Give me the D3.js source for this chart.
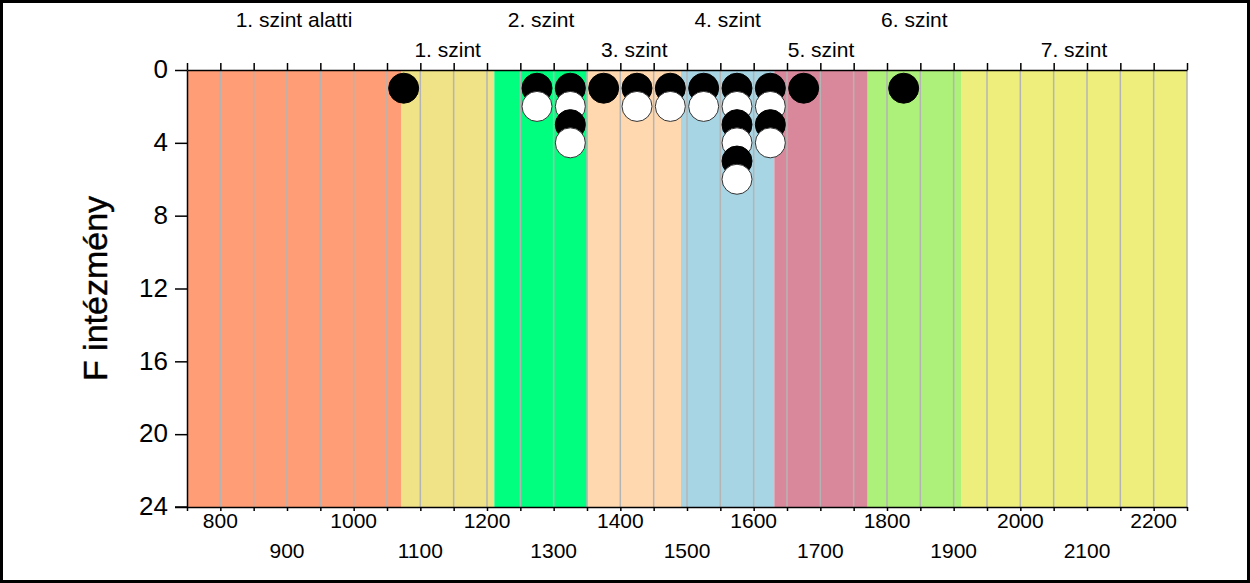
<!DOCTYPE html>
<html>
<head>
<meta charset="utf-8">
<script src="https://cdn.jsdelivr.net/npm/d3@7"></script>
<style>
  html, body { margin: 0; padding: 0; background: #fff; }
  svg { display: block; font-family: "Liberation Sans", Arial, sans-serif; }
</style>
</head>
<body>
<svg id="chart" width="1250" height="583"></svg>
<script>
// ---- data ----
const bandNames = ["1. szint alatti", "1. szint", "2. szint", "3. szint", "4. szint", "5. szint", "6. szint", "7. szint"];
const bandStarts = [750, 1071, 1211, 1351, 1491, 1631, 1771, 1911];
const bandEnds   = [1071, 1211, 1351, 1491, 1631, 1771, 1911, 2250];
const bandColors = ["#FF9E76", "#F0E286", "#00FF7F", "#FFD8B0", "#A8D5E4", "#D9889B", "#ADF07A", "#EEEE7C"];
const columnScores = [1075, 1275, 1325, 1375, 1425, 1475, 1525, 1575, 1625, 1675, 1825];
const columnCounts = [1, 2, 4, 1, 2, 2, 2, 6, 4, 1, 1];
const xTickLabels = [800, 900, 1000, 1100, 1200, 1300, 1400, 1500, 1600, 1700, 1800, 1900, 2000, 2100, 2200];
const yTickLabels = [0, 4, 8, 12, 16, 20, 24];
const yTitle = "F intézmény";

(function () {
  const svg = d3.select("#chart");
  const W = 1250, H = 583;
  const mLeft = 187, mRight = 1187, mTop = 70, mBottom = 507;

  const x = d3.scaleLinear().domain([750, 2250]).range([mLeft, mRight]);
  const y = d3.scaleLinear().domain([0, 24]).range([mTop, mBottom]);

  // outer frame
  svg.append("rect").attr("x", 1.5).attr("y", 1.5).attr("width", W - 3).attr("height", H - 3)
    .attr("fill", "#fff").attr("stroke", "#000").attr("stroke-width", 3);

  // bands
  svg.append("g").selectAll("rect").data(bandNames).join("rect")
    .attr("x", (d, i) => x(bandStarts[i]))
    .attr("width", (d, i) => x(bandEnds[i]) - x(bandStarts[i]))
    .attr("y", y(0)).attr("height", y(24) - y(0))
    .attr("fill", (d, i) => bandColors[i]);

  // vertical grid every 50
  const gridVals = d3.range(800, 2251, 50);
  svg.append("g").selectAll("line").data(gridVals).join("line")
    .attr("x1", d => x(d)).attr("x2", d => x(d))
    .attr("y1", y(0)).attr("y2", y(24))
    .attr("stroke", "#B4B4B4").attr("stroke-width", 1.5);

  // band labels at top
  svg.append("g").selectAll("text").data(bandNames).join("text")
    .attr("x", (d, i) => x((bandStarts[i] + bandEnds[i]) / 2))
    .attr("y", (d, i) => i % 2 === 0 ? 27 : 57)
    .attr("text-anchor", "middle")
    .attr("font-size", 21)
    .attr("fill", "#000")
    .text(d => d);

  // top axis ticks
  const topAxis = d3.axisTop(x).tickValues(d3.range(750, 2251, 50)).tickSize(7).tickSizeOuter(0).tickFormat("");
  svg.append("g").attr("transform", `translate(0,${mTop})`).call(topAxis)
    .call(g => g.select(".domain").attr("stroke", "#000").attr("stroke-width", 1.5))
    .call(g => g.selectAll(".tick line").attr("stroke", "#000").attr("stroke-width", 1.5));

  // bottom axis
  const botAxis = d3.axisBottom(x).tickValues(d3.range(750, 2251, 50)).tickSize(4).tickSizeOuter(0).tickFormat("");
  svg.append("g").attr("transform", `translate(0,${mBottom})`).call(botAxis)
    .call(g => g.select(".domain").attr("stroke", "#000").attr("stroke-width", 1.5))
    .call(g => g.selectAll(".tick line").attr("stroke", "#000").attr("stroke-width", 1.5));
  svg.append("line").attr("x1", mLeft - 12).attr("x2", mLeft).attr("y1", mBottom).attr("y2", mBottom)
    .attr("stroke", "#000").attr("stroke-width", 1.5);

  svg.append("g").selectAll("text").data(xTickLabels).join("text")
    .attr("x", d => x(d))
    .attr("y", (d, i) => i % 2 === 0 ? 528 : 558)
    .attr("text-anchor", "middle")
    .attr("font-size", 21)
    .text(d => d);

  // left axis
  const leftAxis = d3.axisLeft(y).tickValues(yTickLabels).tickSize(12).tickSizeOuter(0).tickPadding(7);
  svg.append("g").attr("transform", `translate(${mLeft},0)`).call(leftAxis)
    .call(g => g.select(".domain").attr("stroke", "#000").attr("stroke-width", 1.5))
    .call(g => g.selectAll(".tick line").attr("stroke", "#000").attr("stroke-width", 1.5))
    .call(g => g.selectAll(".tick text").attr("font-size", 26).attr("font-family", "Liberation Sans, Arial, sans-serif").attr("fill", "#000").attr("dy", "0.3em"));

  // y title
  svg.append("text")
    .attr("transform", `translate(107,${(mTop + mBottom) / 2}) rotate(-90)`)
    .attr("text-anchor", "middle")
    .attr("font-size", 34)
    .attr("stroke", "#000").attr("stroke-width", 0.4)
    .text(yTitle);

  // dots
  const dots = [];
  columnScores.forEach((s, i) => {
    for (let k = 1; k <= columnCounts[i]; k++) dots.push({ score: s, level: k });
  });
  svg.append("g").selectAll("circle").data(dots).join("circle")
    .attr("cx", d => x(d.score))
    .attr("cy", d => y(d.level))
    .attr("r", 15)
    .attr("fill", d => d.level % 2 === 1 ? "#000" : "#fff")
    .attr("stroke", d => d.level % 2 === 1 ? "#000" : "#333")
    .attr("stroke-width", 1);
})();
</script>
</body>
</html>
